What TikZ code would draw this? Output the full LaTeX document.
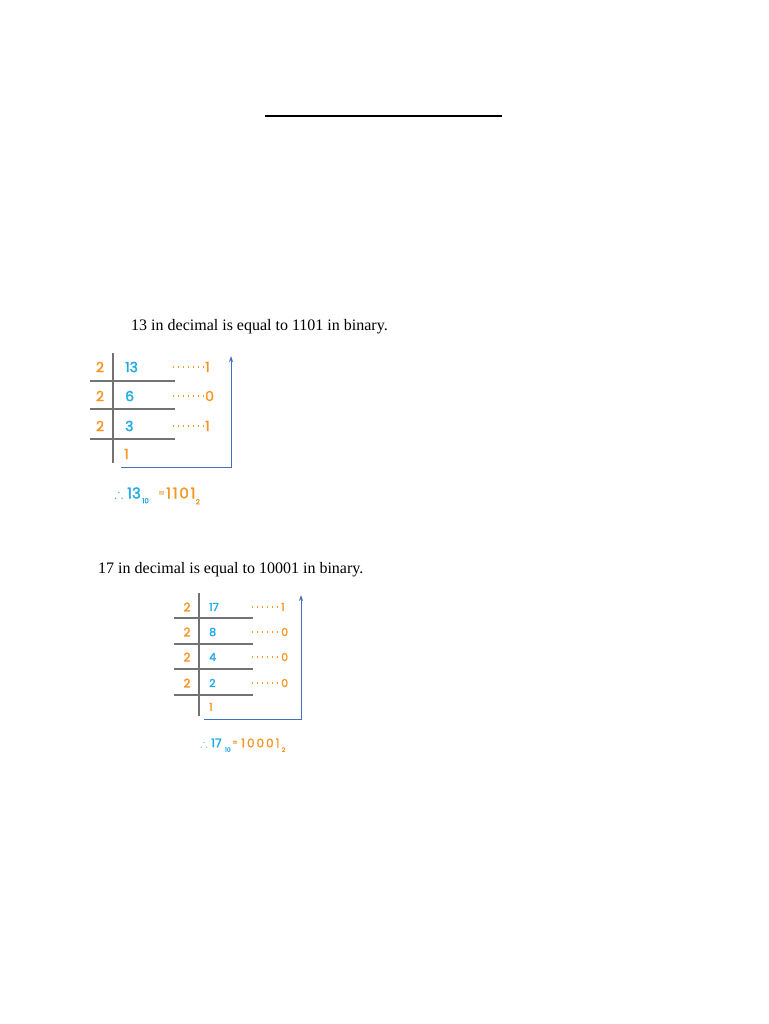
\documentclass[tikz,border=0pt]{standalone}
\usepackage{amssymb}
\usepackage{fontspec}
\setmainfont{Liberation Serif}
\newfontfamily\digitfont[FakeBold=1.6]{Poppins}
\newfontfamily\widedigitfont[FakeBold=1.6,LetterSpace=12]{Poppins}
\usetikzlibrary{arrows.meta}
\definecolor{dorange}{RGB}{247,148,30}
\definecolor{dblue}{RGB}{30,170,230}
\definecolor{arrowblue}{RGB}{70,110,190}
\definecolor{rulegray}{RGB}{115,115,115}
\begin{document}
\begin{tikzpicture}[x=1pt,y=-1pt,
  heading/.style={anchor=base west,inner sep=0pt,font=\fontsize{16}{18}\selectfont},
  divA/.style={inner sep=0pt,text=dorange,font=\digitfont\fontsize{#1}{#1}\selectfont},
  numB/.style={anchor=west,inner sep=0pt,text=dblue,font=\digitfont\fontsize{#1}{#1}\selectfont},
  remD/.style={anchor=west,inner sep=0pt,text=dorange,font=\digitfont\fontsize{#1}{#1}\selectfont},
  subS/.style={anchor=west,inner sep=0pt,font=\digitfont\fontsize{#1}{#1}\selectfont},
  wideS/.style={anchor=west,inner sep=0pt,font=\widedigitfont\fontsize{#1}{#1}\selectfont},
  rule/.style={draw=rulegray,line width=1.3pt},
  dotline/.style={draw=dorange,line width=1.1pt,dash pattern=on 1.4pt off 3.6pt},
  readup/.style={draw=arrowblue,line width=1pt,-{Stealth[length=6pt,width=4pt]}},
]
\fill[white] (0,0) rectangle (768,1024);
\useasboundingbox (0,0) rectangle (768,1024);
% top line
\coordinate (tl) at (265,116);
\coordinate (tr) at (502,116);
\draw[line width=2pt] (tl) -- (tr);

% ---------- first example ----------
\node[heading] (h1) at (131,330) {13 in decimal is equal to 1101 in binary.};
\coordinate (v1t) at (113,353);
\coordinate (v1b) at (113,463);
\draw[rule] (v1t) -- (v1b);
\foreach \y [count=\i] in {381,409,439}{
  \coordinate (l1a\i) at (90,\y);
  \coordinate (l1b\i) at (175,\y);
  \draw[rule] (l1a\i) -- (l1b\i);
}
\foreach \y/\q/\r [count=\i] in {367/13/1,396/6/0,426/3/1}{
  \node[divA=14] (a1\i) at (100,\y) {2};
  \node[numB=14] (q1\i) at (125,\y) {\q};
  \node[remD=14] (r1\i) at (205,\y) {\r};
  \coordinate (s1\i) at (173,\y);
  \draw[dotline] (s1\i) -- ([xshift=-1pt]r1\i.west);
}
\node[remD=14] (q14) at (124,454) {1};
\coordinate (ar1b) at (121,467);
\coordinate (ar1c) at (231,467);
\coordinate (ar1t) at (231,356);
\draw[readup] (ar1b) -- (ar1c) -- (ar1t);
\node[inner sep=0pt,text=dblue,font=\fontsize{13}{13}\selectfont] (t1) at (119,494) {$\therefore$};
\node[subS=15,text=dblue] (t1a) at (127,493) {13};
\node[subS=7,text=dblue] (t1b) at ([xshift=1pt,yshift=-2pt]t1a.south east) {10};
\node[subS=9,text=dorange] (t1c) at (158,494) {=};
\node[wideS=15,text=dorange] (t1d) at (166,493) {1101};
\node[subS=7,text=dorange] (t1e) at ([xshift=0pt,yshift=-3pt]t1d.south east) {2};

% ---------- second example ----------
\node[heading] (h2) at (98,573) {17 in decimal is equal to 10001 in binary.};
\coordinate (v2t) at (199,593);
\coordinate (v2b) at (199,716);
\draw[rule] (v2t) -- (v2b);
\foreach \y [count=\i] in {618,644,669,695}{
  \coordinate (l2a\i) at (174,\y);
  \coordinate (l2b\i) at (253,\y);
  \draw[rule] (l2a\i) -- (l2b\i);
}
\foreach \y/\q/\r [count=\i] in {607/17/1,632/8/0,657/4/0,683/2/0}{
  \node[divA=12] (a2\i) at (187,\y) {2};
  \node[numB=11] (q2\i) at (209,\y) {\q};
  \node[remD=11] (r2\i) at (281,\y) {\r};
  \coordinate (s2\i) at (252,\y);
  \draw[dotline] (s2\i) -- ([xshift=-1pt]r2\i.west);
}
\node[remD=11] (q25) at (209,707) {1};
\coordinate (ar2b) at (204,719);
\coordinate (ar2c) at (301,719);
\coordinate (ar2t) at (301,595);
\draw[readup] (ar2b) -- (ar2c) -- (ar2t);
\node[inner sep=0pt,text=dblue,font=\fontsize{11}{11}\selectfont] (t2) at (204,744) {$\therefore$};
\node[subS=12,text=dblue] (t2a) at (211,743) {17};
\node[subS=6,text=dblue] (t2b) at ([xshift=3pt,yshift=-2pt]t2a.south east) {10};
\node[subS=8,text=dorange] (t2c) at (232,743) {=};
\node[subS=12,text=dorange] (t2d) at (241,743) {1\,0\,0\,0\,1};
\node[subS=6,text=dorange] (t2e) at ([xshift=2pt,yshift=-2pt]t2d.south east) {2};
\end{tikzpicture}
\end{document}
